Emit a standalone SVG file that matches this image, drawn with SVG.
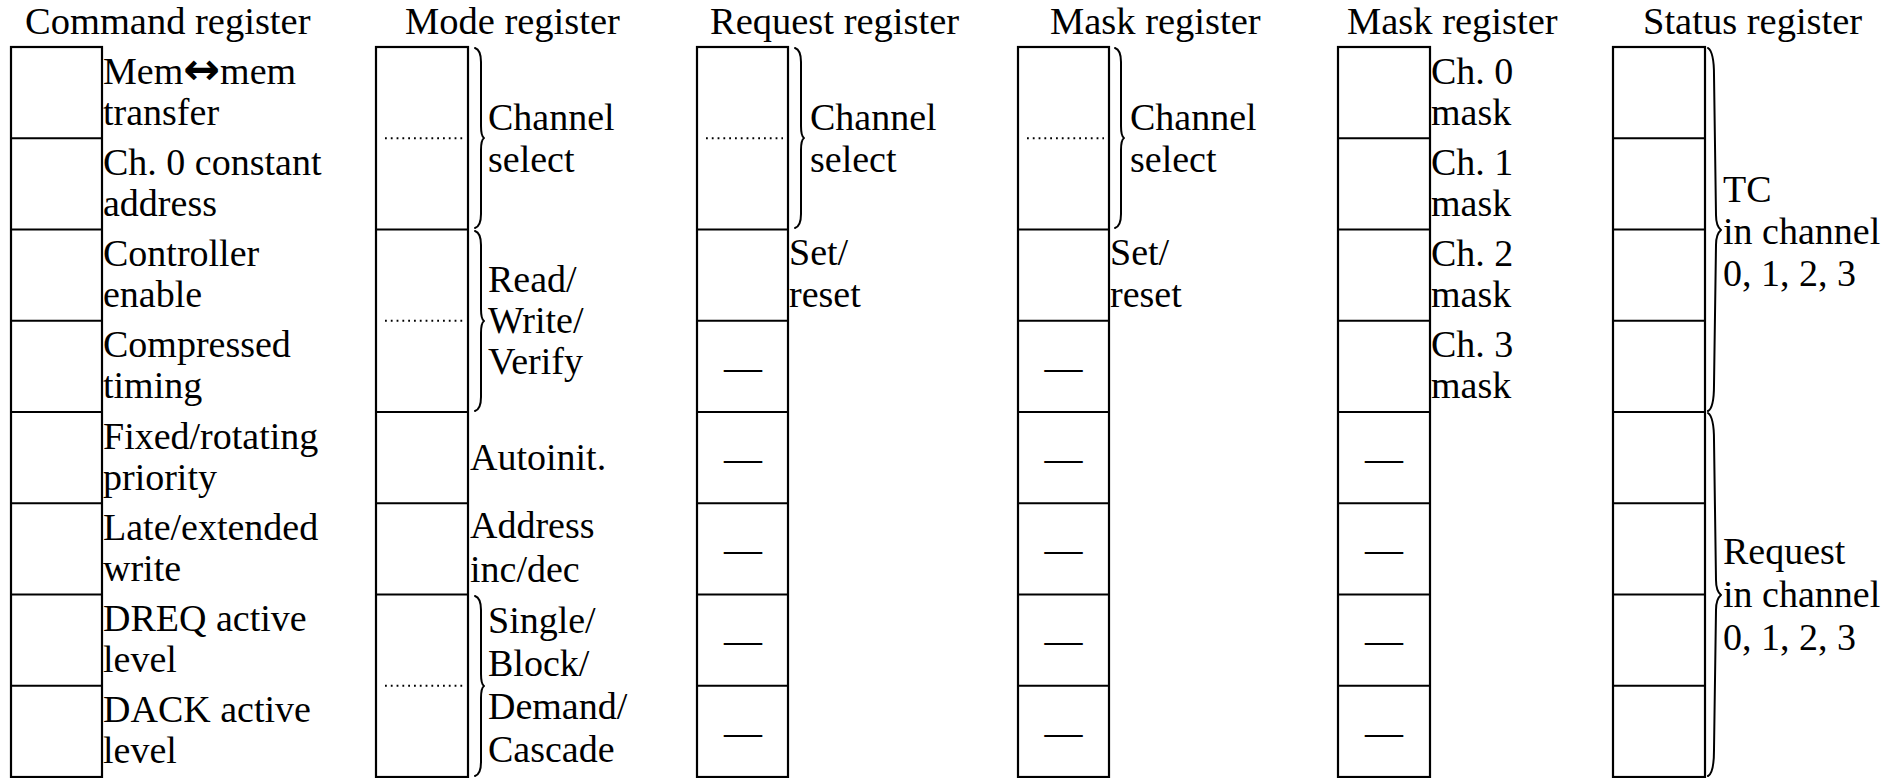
<svg xmlns="http://www.w3.org/2000/svg" width="1899" height="778" viewBox="0 0 1899 778">
  <style>
    text { font-family: "Liberation Serif", "Times New Roman", serif; font-size: 38px; fill: #000; }
    .title { font-size: 38.5px; }
    .dash { text-anchor: middle; }
    .box { fill: #fff; stroke: #000; stroke-width: 2.2; }
    .row { stroke: #000; stroke-width: 2.2; }
    .dot { stroke: #000; stroke-width: 1.8; stroke-dasharray: 1.8 4; }
    .brace { fill: none; stroke: #000; stroke-width: 2; stroke-linecap: round; stroke-linejoin: round; }
    .arrow { font-family: "DejaVu Sans", sans-serif; font-weight: bold; font-size: 44px; }
  </style>

  <rect width="1899" height="778" fill="#fff"/>

  <!-- Command register -->
  <g id="command-register">
    <text class="title" x="25" y="34">Command register</text>
    <rect class="box" x="11" y="47" width="91" height="730"/>
    <line class="row" x1="11" y1="138.25" x2="102" y2="138.25"/>
    <line class="row" x1="11" y1="229.5" x2="102" y2="229.5"/>
    <line class="row" x1="11" y1="320.75" x2="102" y2="320.75"/>
    <line class="row" x1="11" y1="412" x2="102" y2="412"/>
    <line class="row" x1="11" y1="503.25" x2="102" y2="503.25"/>
    <line class="row" x1="11" y1="594.5" x2="102" y2="594.5"/>
    <line class="row" x1="11" y1="685.75" x2="102" y2="685.75"/>
    <text x="103" y="84">Mem<tspan class="arrow">↔</tspan>mem</text>
    <text x="103" y="125">transfer</text>
    <text x="103" y="175">Ch. 0 constant</text>
    <text x="103" y="216">address</text>
    <text x="103" y="266">Controller</text>
    <text x="103" y="307">enable</text>
    <text x="103" y="357">Compressed</text>
    <text x="103" y="398">timing</text>
    <text x="103" y="449">Fixed/rotating</text>
    <text x="103" y="490">priority</text>
    <text x="103" y="540">Late/extended</text>
    <text x="103" y="581">write</text>
    <text x="103" y="631">DREQ active</text>
    <text x="103" y="672">level</text>
    <text x="103" y="722">DACK active</text>
    <text x="103" y="763">level</text>
  </g>

  <!-- Mode register -->
  <g id="mode-register">
    <text class="title" x="405" y="34">Mode register</text>
    <rect class="box" x="376" y="47" width="92" height="730"/>
    <line class="dot" x1="385" y1="138.25" x2="463" y2="138.25"/>
    <line class="row" x1="376" y1="229.5" x2="468" y2="229.5"/>
    <line class="dot" x1="385" y1="320.75" x2="463" y2="320.75"/>
    <line class="row" x1="376" y1="412" x2="468" y2="412"/>
    <line class="row" x1="376" y1="503.25" x2="468" y2="503.25"/>
    <line class="row" x1="376" y1="594.5" x2="468" y2="594.5"/>
    <line class="dot" x1="385" y1="685.75" x2="463" y2="685.75"/>
    <text x="488" y="130">Channel</text>
    <text x="488" y="172">select</text>
    <text x="488" y="292">Read/</text>
    <text x="488" y="333">Write/</text>
    <text x="488" y="374">Verify</text>
    <text x="470" y="470">Autoinit.</text>
    <text x="470" y="538">Address</text>
    <text x="470" y="582">inc/dec</text>
    <text x="488" y="633">Single/</text>
    <text x="488" y="676">Block/</text>
    <text x="488" y="719">Demand/</text>
    <text x="488" y="762">Cascade</text>
  </g>

  <!-- Request register -->
  <g id="request-register">
    <text class="title" x="710" y="34">Request register</text>
    <rect class="box" x="697" y="47" width="91" height="730"/>
    <line class="dot" x1="706" y1="138.25" x2="783" y2="138.25"/>
    <line class="row" x1="697" y1="229.5" x2="788" y2="229.5"/>
    <line class="row" x1="697" y1="320.75" x2="788" y2="320.75"/>
    <line class="row" x1="697" y1="412" x2="788" y2="412"/>
    <line class="row" x1="697" y1="503.25" x2="788" y2="503.25"/>
    <line class="row" x1="697" y1="594.5" x2="788" y2="594.5"/>
    <line class="row" x1="697" y1="685.75" x2="788" y2="685.75"/>
    <text x="810" y="130">Channel</text>
    <text x="810" y="172">select</text>
    <text x="789" y="265">Set/</text>
    <text x="789" y="307">reset</text>
    <text class="dash" x="743" y="380">—</text>
    <text class="dash" x="743" y="471">—</text>
    <text class="dash" x="743" y="562">—</text>
    <text class="dash" x="743" y="653">—</text>
    <text class="dash" x="743" y="745">—</text>
  </g>

  <!-- Mask register (single-channel set/reset) -->
  <g id="mask-register-single">
    <text class="title" x="1050" y="34">Mask register</text>
    <rect class="box" x="1018" y="47" width="91" height="730"/>
    <line class="dot" x1="1027" y1="138.25" x2="1104" y2="138.25"/>
    <line class="row" x1="1018" y1="229.5" x2="1109" y2="229.5"/>
    <line class="row" x1="1018" y1="320.75" x2="1109" y2="320.75"/>
    <line class="row" x1="1018" y1="412" x2="1109" y2="412"/>
    <line class="row" x1="1018" y1="503.25" x2="1109" y2="503.25"/>
    <line class="row" x1="1018" y1="594.5" x2="1109" y2="594.5"/>
    <line class="row" x1="1018" y1="685.75" x2="1109" y2="685.75"/>
    <text x="1130" y="130">Channel</text>
    <text x="1130" y="172">select</text>
    <text x="1110" y="265">Set/</text>
    <text x="1110" y="307">reset</text>
    <text class="dash" x="1063.5" y="380">—</text>
    <text class="dash" x="1063.5" y="471">—</text>
    <text class="dash" x="1063.5" y="562">—</text>
    <text class="dash" x="1063.5" y="653">—</text>
    <text class="dash" x="1063.5" y="745">—</text>
  </g>

  <!-- Mask register (all channels) -->
  <g id="mask-register-all">
    <text class="title" x="1347" y="34">Mask register</text>
    <rect class="box" x="1338" y="47" width="92" height="730"/>
    <line class="row" x1="1338" y1="138.25" x2="1430" y2="138.25"/>
    <line class="row" x1="1338" y1="229.5" x2="1430" y2="229.5"/>
    <line class="row" x1="1338" y1="320.75" x2="1430" y2="320.75"/>
    <line class="row" x1="1338" y1="412" x2="1430" y2="412"/>
    <line class="row" x1="1338" y1="503.25" x2="1430" y2="503.25"/>
    <line class="row" x1="1338" y1="594.5" x2="1430" y2="594.5"/>
    <line class="row" x1="1338" y1="685.75" x2="1430" y2="685.75"/>
    <text x="1431" y="84">Ch. 0</text>
    <text x="1431" y="125">mask</text>
    <text x="1431" y="175">Ch. 1</text>
    <text x="1431" y="216">mask</text>
    <text x="1431" y="266">Ch. 2</text>
    <text x="1431" y="307">mask</text>
    <text x="1431" y="357">Ch. 3</text>
    <text x="1431" y="398">mask</text>
    <text class="dash" x="1384" y="471">—</text>
    <text class="dash" x="1384" y="562">—</text>
    <text class="dash" x="1384" y="653">—</text>
    <text class="dash" x="1384" y="745">—</text>
  </g>

  <!-- Status register -->
  <g id="status-register">
    <text class="title" x="1643" y="34">Status register</text>
    <rect class="box" x="1613" y="47" width="92" height="730"/>
    <line class="row" x1="1613" y1="138.25" x2="1705" y2="138.25"/>
    <line class="row" x1="1613" y1="229.5" x2="1705" y2="229.5"/>
    <line class="row" x1="1613" y1="320.75" x2="1705" y2="320.75"/>
    <line class="row" x1="1613" y1="412" x2="1705" y2="412"/>
    <line class="row" x1="1613" y1="503.25" x2="1705" y2="503.25"/>
    <line class="row" x1="1613" y1="594.5" x2="1705" y2="594.5"/>
    <line class="row" x1="1613" y1="685.75" x2="1705" y2="685.75"/>
    <text x="1723" y="202">TC</text>
    <text x="1723" y="244">in channel</text>
    <text x="1723" y="286">0, 1, 2, 3</text>
    <text x="1723" y="564">Request</text>
    <text x="1723" y="607">in channel</text>
    <text x="1723" y="650">0, 1, 2, 3</text>
  </g>

  <!-- Curly braces grouping bit fields -->
  <g id="braces">
    <path class="brace" d="M475 48 Q481 50 481 62 L481 126 Q481 136 484 138 Q481 140 481 150 L481 214 Q481 226 475 228"/>
    <path class="brace" d="M475 231 Q481 233 481 245 L481 309 Q481 319 484 321 Q481 323 481 333 L481 397 Q481 409 475 411"/>
    <path class="brace" d="M475 596 Q481 598 481 610 L481 674 Q481 684 484 686 Q481 688 481 698 L481 762 Q481 774 475 776"/>
    <path class="brace" d="M795 48 Q801 50 801 62 L801 126 Q801 136 804 138 Q801 140 801 150 L801 214 Q801 226 795 228"/>
    <path class="brace" d="M1115 48 Q1121 50 1121 62 L1121 126 Q1121 136 1124 138 Q1121 140 1121 150 L1121 214 Q1121 226 1115 228"/>
    <path class="brace" d="M1708 48 Q1714 52 1714 75 L1716 215 Q1716 226 1721 230 Q1716 234 1716 245 L1714 385 Q1714 408 1708 411"/>
    <path class="brace" d="M1708 413 Q1714 417 1714 440 L1716 580 Q1716 591 1721 595 Q1716 599 1716 610 L1714 750 Q1714 773 1708 776"/>
  </g>
</svg>
